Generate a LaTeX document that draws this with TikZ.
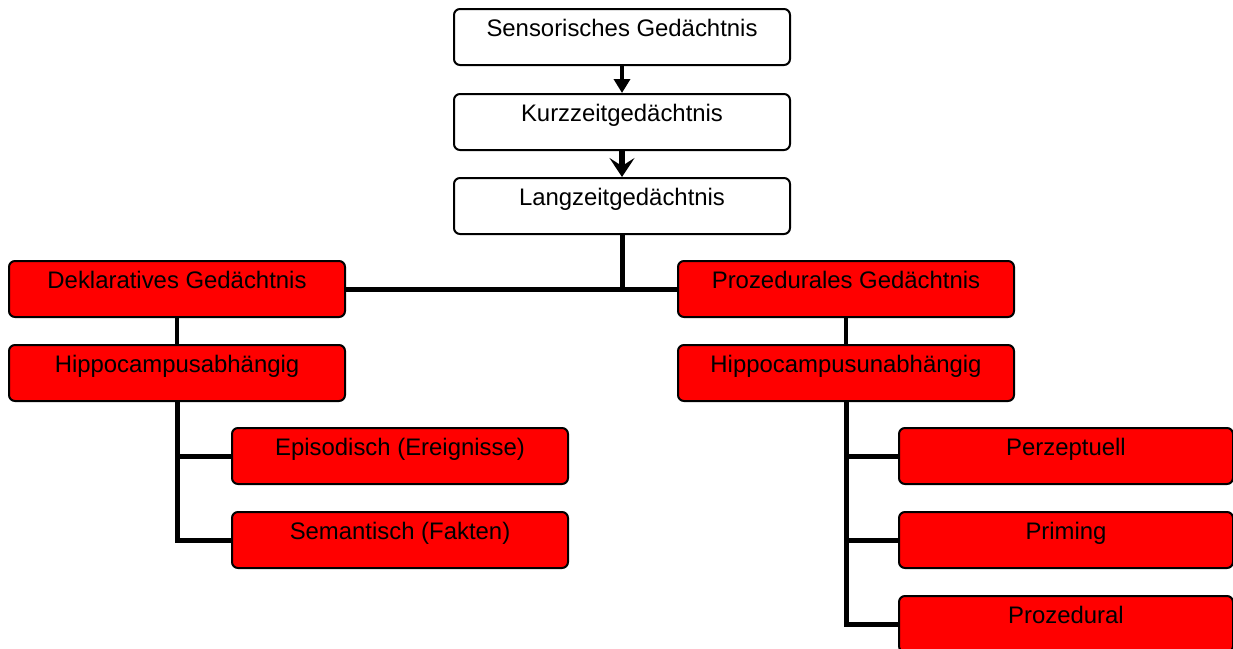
\documentclass[tikz,border=0pt]{standalone}
\usepackage{fontspec}
\setmainfont{Liberation Sans}
\usetikzlibrary{arrows.meta}
\begin{document}
\begin{tikzpicture}[x=1pt,y=-1pt,
  box/.style={draw=black, line width=2pt, rounded corners=6pt, inner sep=0pt,
    minimum width=336pt, text height=27pt, text depth=29pt, font=\fontsize{23.9}{27}\selectfont, anchor=north west},
  wbox/.style={box, fill=white},
  rbox/.style={box, fill=red},
  conn/.style={line width=5pt}]
\useasboundingbox (0,0) rectangle (1233,648);
\node[wbox] (sens) at (453,8) {Sensorisches Gedächtnis};
\node[wbox] (kurz) at (453,93) {Kurzzeitgedächtnis};
\node[wbox] (lang) at (453,177) {Langzeitgedächtnis};
\node[rbox] (dekl) at (8,260) {Deklaratives Gedächtnis};
\node[rbox] (proz) at (677,260) {Prozedurales Gedächtnis};
\node[rbox] (ha) at (8,344) {Hippocampusabhängig};
\node[rbox] (hu) at (677,344) {Hippocampusunabhängig};
\node[rbox] (epi) at (231,427) {Episodisch (Ereignisse)};
\node[rbox] (sem) at (231,511) {Semantisch (Fakten)};
\node[rbox, minimum width=334pt] (perz) at (898,427) {Perzeptuell};
\node[rbox, minimum width=334pt] (prim) at (898,511) {Priming};
\node[rbox, minimum width=334pt] (prozd) at (898,595) {Prozedural};
\coordinate (j) at (lang.south |- dekl.east);
\draw[line width=4pt, -{Triangle[width=16pt,length=14pt]}] (sens.south) -- (kurz.north);
\draw[line width=6pt, -{Stealth[width=25pt,length=19pt,inset=8pt]}] (kurz.south) -- (lang.north);
\draw[conn] (lang.south) -- (j);
\draw[conn] (dekl.east) -- (proz.west);
\draw[line width=4.5pt] (dekl.south) -- (ha.north);
\draw[line width=4.5pt] (proz.south) -- (hu.north);
\draw[conn] (ha.south) |- (sem.west);
\draw[conn] (ha.south |- epi.west) -- (epi.west);
\draw[conn] (hu.south) |- (prozd.west);
\draw[conn] (hu.south |- perz.west) -- (perz.west);
\draw[conn] (hu.south |- prim.west) -- (prim.west);
\end{tikzpicture}
\end{document}
